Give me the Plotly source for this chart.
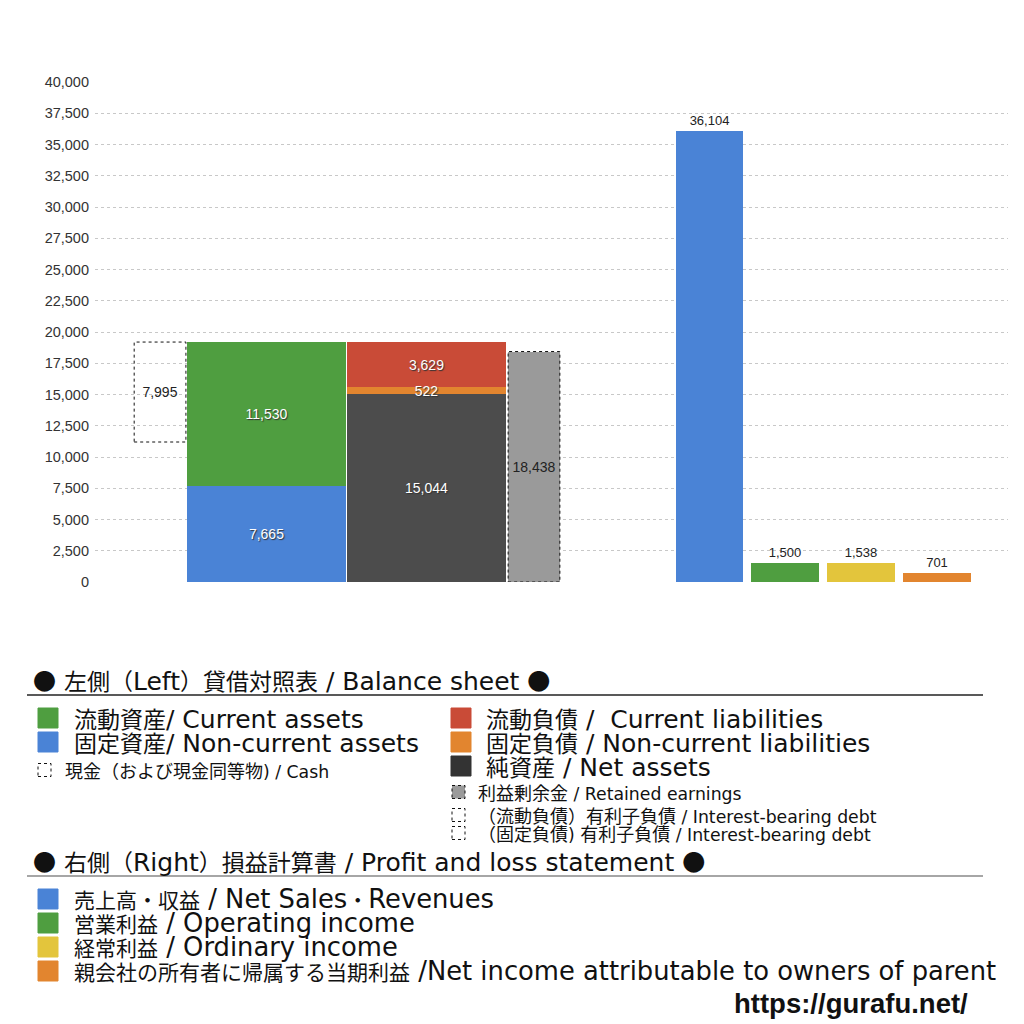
import plotly.graph_objects as go

# balance sheet (left)
current_assets = 11530
noncurrent_assets = 7665
cash = 7995
current_liabilities = 3629
noncurrent_liabilities = 522
net_assets = 15044
retained_earnings = 18438

# profit and loss (right)
pl_labels = ["売上高・収益", "営業利益", "経常利益", "親会社株主に帰属する当期純利益"]
pl_values = [36104, 1500, 1538, 701]

y_ticks = list(range(0, 40001, 2500))

# slot positions on the x axis (layout only)
POS_CASH, W_SMALL = 0.855, 0.68
POS_ASSETS, POS_LIAB, W_BIG = 2.255, 4.355, 2.09
POS_RETAINED = 5.77
POS_PL = [8.075, 9.07, 10.07, 11.07]
W_PL = 0.89

C_GREEN = "#4f9e40"
C_BLUE = "#4a83d6"
C_RED = "#c94b37"
C_ORANGE = "#e2852f"
C_BLACK = "#4c4c4c"
C_GREY = "#9a9a9a"
C_YELLOW = "#e3c53c"

FONT = "Liberation Sans, Noto Sans CJK JP"
LEG_FONT = "DejaVu Sans, Noto Sans CJK JP"
inside_font = dict(family=FONT, size=14, color="white", shadow="1px 1px 1px #333")
dark_font = dict(family=FONT, size=14, color="#222")

fig = go.Figure()

def stacked(pos, width, value, base, color, font=inside_font):
    fig.add_trace(go.Bar(
        x=[pos], y=[value], base=[base], width=[width],
        marker=dict(color=color, line=dict(width=0)),
        text=[f"{value:,}"], textposition="inside", insidetextanchor="middle",
        constraintext="none", textfont=font, showlegend=False, hoverinfo="skip",
    ))

total_assets = current_assets + noncurrent_assets

# left: assets
stacked(POS_ASSETS, W_BIG, noncurrent_assets, 0, C_BLUE)
stacked(POS_ASSETS, W_BIG, current_assets, noncurrent_assets, C_GREEN)
# left: liabilities + net assets (thin orange slice last so its label stays on top)
stacked(POS_LIAB, W_BIG, net_assets, 0, C_BLACK)
stacked(POS_LIAB, W_BIG, current_liabilities, net_assets + noncurrent_liabilities, C_RED)
stacked(POS_LIAB, W_BIG, noncurrent_liabilities, net_assets, C_ORANGE)

# cash box hanging from the top of total assets
stacked(POS_CASH, W_SMALL, cash, total_assets - cash, "rgba(255,255,255,0)", dark_font)
# retained earnings
stacked(POS_RETAINED, W_SMALL, retained_earnings, 0, C_GREY, dark_font)

# dotted outlines
for pos, lo, hi in [(POS_CASH, total_assets - cash, total_assets),
                    (POS_RETAINED, 0, retained_earnings)]:
    fig.add_shape(type="rect", xref="x", yref="y",
                  x0=pos - W_SMALL / 2, x1=pos + W_SMALL / 2, y0=lo, y1=hi,
                  line=dict(color="#111", width=1, dash="dot"))

# right: P&L bars
fig.add_trace(go.Bar(
    x=POS_PL, y=pl_values, width=[W_PL] * 4,
    marker=dict(color=[C_BLUE, C_GREEN, C_YELLOW, C_ORANGE], line=dict(width=0)),
    text=[f"{v:,}" for v in pl_values], textposition="outside",
    textfont=dict(family=FONT, size=13, color="#222"),
    cliponaxis=False, showlegend=False, hoverinfo="skip",
))

# page body has an 8px margin, so the figure is 8px smaller than the window
fig.update_layout(
    width=1016, height=1016,
    margin=dict(l=87, r=16, t=74, b=442),
    plot_bgcolor="white", paper_bgcolor="white",
    barmode="overlay", bargap=0,
    font=dict(family=FONT, color="#333"),
    xaxis=dict(range=[0, 12], showticklabels=False, showgrid=False, zeroline=False),
    yaxis=dict(range=[0, 40000], tickvals=y_ticks,
               ticktext=[f"{t:,}" for t in y_ticks],
               tickfont=dict(family=FONT, size=14.5, color="#333"),
               showgrid=True, gridcolor="#c8c8c8", griddash="dot", gridwidth=1,
               zeroline=False, ticks="", ticklabelstandoff=5),
)

# ---- legend block below the chart (paper coords, given in screen pixels) ----
def px(x):
    return (x - 95) / 913

def py(y):
    return (582 - y) / 500

def mixed(s, cjk_size):
    # CJK runs are set smaller than the latin text, as in the original
    out, run = [], ""
    for ch in s:
        is_cjk = ord(ch) >= 0x2E80 or ch == "●"
        if is_cjk:
            run += ch
        else:
            if run:
                out.append(f"<span style=\"font-family:'Noto Sans CJK JP';font-size:{cjk_size}px\">{run}</span>")
                run = ""
            out.append(ch)
    if run:
        out.append(f"<span style=\"font-family:'Noto Sans CJK JP';font-size:{cjk_size}px\">{run}</span>")
    return "".join(out)

def text(x, y, s, size, cjk_size, color="#111"):
    fig.add_annotation(x=px(x), y=py(y), xref="paper", yref="paper",
                       text=mixed(s, cjk_size),
                       showarrow=False, xanchor="left", yanchor="middle",
                       font=dict(family=LEG_FONT, size=size, color=color))

def square(x, y, size, color, dotted=False):
    fig.add_shape(type="rect", xref="paper", yref="paper",
                  x0=px(x), x1=px(x + size), y0=py(y + size / 2), y1=py(y - size / 2),
                  fillcolor=color,
                  line=dict(color="#111" if dotted else color, width=1,
                            dash="dot" if dotted else "solid"))

def hline(y, color):
    fig.add_shape(type="line", xref="paper", yref="paper",
                  x0=px(27), x1=px(983), y0=py(y), y1=py(y),
                  line=dict(color=color, width=1.5))

BIG, BIG_CJK = 25, 23
SMALL, SMALL_CJK = 17.3, 18

text(31, 680, "● 左側（Left）貸借対照表 / Balance sheet ●", BIG, BIG_CJK)
hline(695, "#222")

square(38, 718, 20, C_GREEN)
text(72, 718, "流動資産/ Current assets", BIG, BIG_CJK)
square(38, 742, 20, C_BLUE)
text(72, 742, "固定資産/ Non-current assets", BIG, BIG_CJK)
square(38, 770, 13, "white", dotted=True)
text(63, 770, "現金（および現金同等物) / Cash", SMALL, SMALL_CJK)

square(451, 718, 20, C_RED)
text(484, 718, "流動負債 /  Current liabilities", BIG, BIG_CJK)
square(451, 742, 20, C_ORANGE)
text(484, 742, "固定負債 / Non-current liabilities", BIG, BIG_CJK)
square(451, 766, 20, "#333")
text(484, 766, "純資産 / Net assets", BIG, BIG_CJK)
square(452, 792, 13, C_GREY, dotted=True)
text(476, 792, "利益剰余金 / Retained earnings", SMALL, SMALL_CJK)
square(452, 815, 13, "white", dotted=True)
text(476, 815, "（流動負債）有利子負債 / Interest-bearing debt", SMALL, SMALL_CJK)
square(452, 833, 13, "white", dotted=True)
text(476, 833, "（固定負債) 有利子負債 / Interest-bearing debt", SMALL, SMALL_CJK)

text(31, 861, "● 右側（Right）損益計算書 / Profit and loss statement ●", BIG, BIG_CJK)
hline(876, "#888")

pl_legend = [
    ("売上高・収益 / Net Sales・Revenues", C_BLUE),
    ("営業利益 / Operating income", C_GREEN),
    ("経常利益 / Ordinary income", C_YELLOW),
    ("親会社の所有者に帰属する当期利益 /Net income attributable to owners of parent", C_ORANGE),
]
for i, (label, color) in enumerate(pl_legend):
    yy = 899 + i * 24
    square(38, yy, 20, color)
    text(72, yy, label, 25.8, 21)

fig.add_annotation(x=px(970), y=py(1003), xref="paper", yref="paper",
                   text="<b>https://gurafu.net/</b>", showarrow=False,
                   xanchor="right", yanchor="middle",
                   font=dict(family="Liberation Sans", size=27.5, color="#111"))

fig.write_html("out.html")
